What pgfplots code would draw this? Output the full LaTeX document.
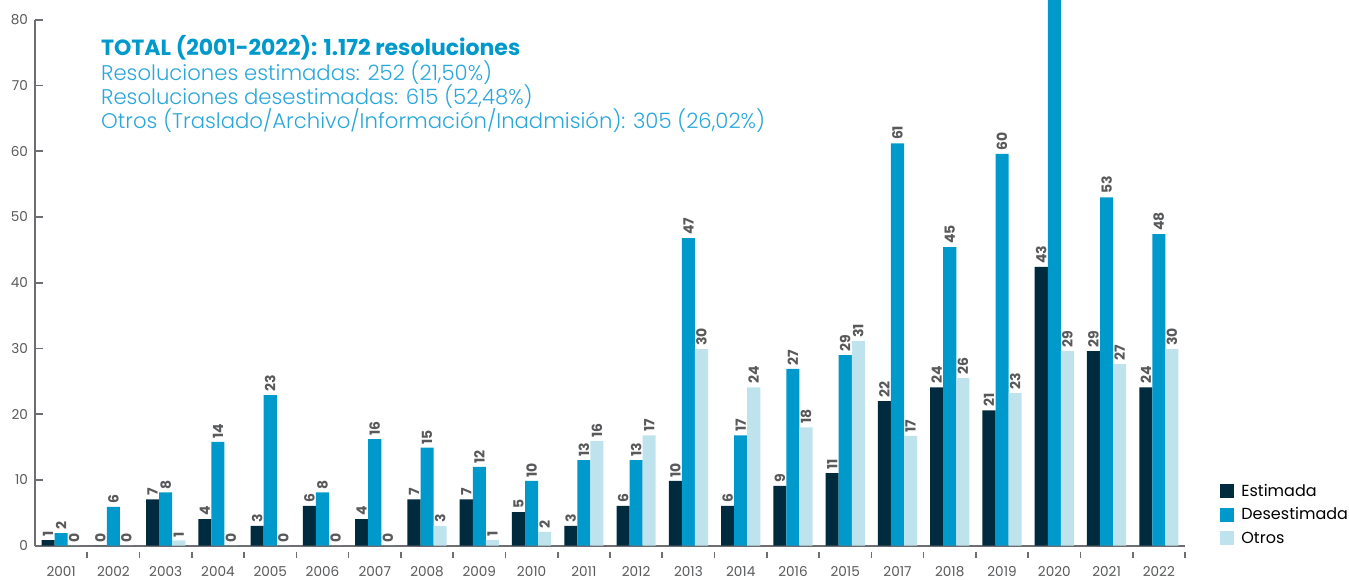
\documentclass[border=0pt]{standalone}
\usepackage{fontspec}
\setmainfont{Poppins}
\newfontfamily\lightfont{Poppins Light}
\usepackage{pgfplots}
\usepackage{pgfplotstable}
\pgfplotsset{compat=1.18}

\definecolor{cEst}{HTML}{002B3E}
\definecolor{cDes}{HTML}{0099CC}
\definecolor{cOtr}{HTML}{BFE3EC}
\definecolor{cTxt}{HTML}{58595B}
\definecolor{cAxis}{HTML}{6D6E71}
\definecolor{cTit}{HTML}{0099CC}
\definecolor{cSub}{HTML}{2AA7DA}

% x: year index, e/d/o: bar heights, el/dl/ol: printed labels
\pgfplotstableread{
x  e     el  d     dl  o     ol
0  0.85  1   1.9   2   0     0
1  0     0   5.9   6   0     0
2  7.05  7   8.1   8   0.8   1
3  4.05  4   15.8  14  0     0
4  3.0   3   22.9  23  0     0
5  6.05  6   8.1   8   0     0
6  4.05  4   16.2  16  0     0
7  7.05  7   14.9  15  3.0   3
8  7.05  7   12.0  12  0.85  1
9  5.1   5   9.85  10  2.1   2
10 3.0   3   13.0  13  15.9  16
11 6.05  6   13.0  13  16.8  17
12 9.85  10  46.8  47  29.9  30
13 6.05  6   16.8  17  24.1  24
14 9.1   9   26.9  27  18.0  18
15 11.05 11  29.0  29  31.1  31
16 22.0  22  61.2  61  16.7  17
17 24.1  24  45.4  45  25.5  26
18 20.6  21  59.6  60  23.2  23
19 42.4  43  88    {}  29.6  29
20 29.6  29  53.0  53  27.6  27
21 24.1  24  47.4  48  29.9  30
}\data

\begin{document}
\begin{tikzpicture}
\begin{axis}[
    name=ax,
    scale only axis,
    width=575pt, height=272.85pt,
    xmin=-0.5, xmax=21.5, ymin=0, ymax=83,
    axis lines=left,
    axis line style={-, draw=cAxis, line width=1pt},
    y axis line style={draw=none},
    tick align=inside,
    xtick={0,...,21},
    xticklabels={2001,2002,2003,2004,2005,2006,2007,2008,2009,2010,2011,2012,2013,2014,2016,2015,2017,2018,2019,2020,2021,2022},
    major x tick style={draw=none},
    minor xtick={0.5,1.5,...,21.5},
    minor tick length=3pt,
    minor x tick style={draw=cAxis, line width=0.8pt, yshift=-3pt},
    ytick={0,10,...,80},
    major tick length=4pt,
    y tick style={draw=cAxis, line width=0.8pt},
    tick label style={font=\fontsize{6.8}{8}\selectfont, text=cTxt},
    xticklabel style={yshift=-3pt},
    /pgf/number format/assume math mode=true,
    ybar, bar width=0.25,
    every axis plot/.append style={draw=none},
    nodes near coords,
    point meta=explicit symbolic,
    every node near coord/.append style={rotate=90, anchor=west, inner sep=1.5pt,
        font=\bfseries\fontsize{7}{8}\selectfont, text=cTxt},
    legend style={at={(rel axis cs:1,0)}, anchor=south west, xshift=17.5pt, yshift=-1pt,
        draw=none, fill=none, inner sep=0pt, row sep=2.75pt,
        nodes={text height=6pt, text depth=1pt, inner sep=1pt},
        /tikz/every odd column/.append style={column sep=2.5pt},
        font=\fontsize{8}{10}\selectfont, text=black},
    legend cell align=left,
    legend image code/.code={\fill[#1] (0pt,-3.5pt) rectangle (7pt,3.5pt);},
]
\addplot[fill=cEst, bar shift=-0.25] table[x=x, y=e, meta=el] {\data};
\addplot[fill=cDes, bar shift=0] table[x=x, y=d, meta=dl] {\data};
\addplot[fill=cOtr, bar shift=0.25] table[x=x, y=o, meta=ol] {\data};
\legend{Estimada, Desestimada, Otros}

\coordinate (ytop) at (axis cs:-0.5,80);
\node[anchor=base west, inner sep=0pt, font=\bfseries\fontsize{11}{12}\selectfont, text=cTit]
    at (axis cs:0.757,74.6) {TOTAL (2001-2022): 1.172 resoluciones};
\node[anchor=base west, inner sep=0pt, font=\lightfont\fontsize{10.6}{12}\selectfont, text=cSub]
    at (axis cs:0.757,70.8) {Resoluciones estimadas: 252 (21,50\%)};
\node[anchor=base west, inner sep=0pt, font=\lightfont\fontsize{10.6}{12}\selectfont, text=cSub]
    at (axis cs:0.757,67.1) {Resoluciones desestimadas: 615 (52,48\%)};
\node[anchor=base west, inner sep=0pt, font=\lightfont\fontsize{10.6}{12}\selectfont, text=cSub]
    at (axis cs:0.757,63.4) {Otros (Traslado/Archivo/Información/Inadmisión): 305 (26,02\%)};
\end{axis}
\draw[cAxis, line width=1pt] (ax.south west) -- (ytop);
\pgfresetboundingbox
\path (ax.south west) ++(-17.5pt,-16.65pt) rectangle ++(674.5pt,289.5pt);
\end{tikzpicture}
\end{document}
